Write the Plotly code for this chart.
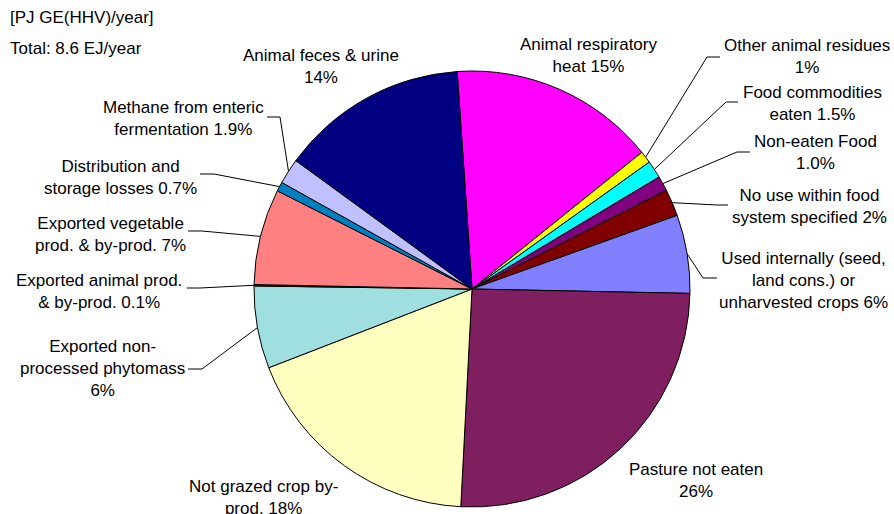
import math

import plotly.graph_objects as go

# PJ GE(HHV)/year, clockwise from the top of the pie
categories = [
    "Animal respiratory heat",
    "Other animal residues",
    "Food commodities eaten",
    "Non-eaten Food",
    "No use within food system specified",
    "Used internally (seed, land cons.) or unharvested crops",
    "Pasture not eaten",
    "Not grazed crop by-prod.",
    "Exported non-processed phytomass",
    "Exported animal prod. & by-prod.",
    "Exported vegetable prod. & by-prod.",
    "Distribution and storage losses",
    "Methane from enteric fermentation",
    "Animal feces & urine",
]
values_pj = [1316, 77, 112, 95, 172, 499, 2193, 1574, 525, 9, 611, 60, 163, 1195]
label_text = [
    "Animal respiratory<br>heat 15%",
    "Other animal residues<br>1%",
    "Food commodities<br>eaten 1.5%",
    "Non-eaten Food<br>1.0%",
    "No use within food<br>system specified 2%",
    "Used internally (seed,<br>land cons.) or<br>unharvested crops 6%",
    "Pasture not eaten<br>26%",
    "Not grazed crop by-<br>prod. 18%",
    "Exported non-<br>processed phytomass<br>6%",
    "Exported animal prod.<br>& by-prod. 0.1%",
    "Exported vegetable<br>prod. & by-prod. 7%",
    "Distribution and<br>storage losses 0.7%",
    "Methane from enteric<br>fermentation 1.9%",
    "Animal feces & urine<br>14%",
]
colors = [
    "#FF00FF", "#FFFF00", "#00FFFF", "#800080", "#800000", "#8080FF", "#7F1F5F",
    "#FFFFC0", "#A0DFDF", "#404040", "#FF8080", "#0080C0", "#C0C0FF", "#000080",
]

# layout in pixels (figure is 894 x 514)
W, H = 894, 514
CX, CY, R = 472, 289, 218
ROTATION = -3.9

# label centre positions, and leader-line elbows (None = no leader line)
label_pos = [
    (588, 55), (807, 56), (812, 103), (815, 152), (809, 206), (803, 280), (696, 480),
    (263, 497), (102, 368), (99, 291), (110, 234), (120, 177), (183, 118), (321, 66),
]
leader = [
    None,
    [(720, 57), (707, 57)],
    [(738, 102), (726, 102)],
    [(750, 152), (737, 152)],
    [(728, 205), (717, 205)],
    [(717, 278), (703, 278)],
    None,
    None,
    [(188, 369), (202, 369)],
    [(187, 288), (200, 288)],
    [(188, 231), (202, 231)],
    [(200, 174), (214, 174)],
    [(267, 117), (280, 117)],
    None,
]

fig = go.Figure()

total = sum(values_pj)
cum = 0.0
for v, pts in zip(values_pj, leader):
    mid = math.radians(ROTATION + (cum + v / 2) / total * 360)
    cum += v
    if pts is None:
        continue
    ex = CX + R * math.sin(mid)
    ey = CY - R * math.cos(mid)
    xs = [p[0] for p in pts] + [ex]
    ys = [p[1] for p in pts] + [ey]
    fig.add_trace(go.Scatter(x=xs, y=ys, mode="lines", line={"color": "black", "width": 1},
                             hoverinfo="skip", showlegend=False))

fig.add_trace(
    go.Pie(
        labels=categories,
        values=values_pj,
        sort=False,
        direction="clockwise",
        rotation=ROTATION,
        marker={"colors": colors, "line": {"color": "black", "width": 1}},
        textinfo="none",
        showlegend=False,
        domain={"x": [(CX - R) / W, (CX + R) / W], "y": [(H - CY - R) / H, (H - CY + R) / H]},
    )
)

font = {"family": "Liberation Sans, Arial, sans-serif", "size": 17, "color": "black"}
for txt, (lx, ly) in zip(label_text, label_pos):
    fig.add_annotation(x=lx, y=ly, xref="x", yref="y", text=txt, showarrow=False,
                       align="center", font=font)

fig.add_annotation(x=8, y=17, xref="x", yref="y", text="[PJ GE(HHV)/year]", showarrow=False,
                   xanchor="left", font=font)
fig.add_annotation(x=8, y=48, xref="x", yref="y", text="Total: 8.6 EJ/year", showarrow=False,
                   xanchor="left", font=font)

fig.update_layout(
    width=W,
    height=H,
    margin={"l": 0, "r": 0, "t": 0, "b": 0},
    paper_bgcolor="white",
    plot_bgcolor="white",
    xaxis={"range": [0, W], "visible": False, "fixedrange": True},
    yaxis={"range": [H, 0], "visible": False, "fixedrange": True},
)

fig.write_html("out.html", config={"displayModeBar": False},
               post_script="document.body.style.margin='0';")
